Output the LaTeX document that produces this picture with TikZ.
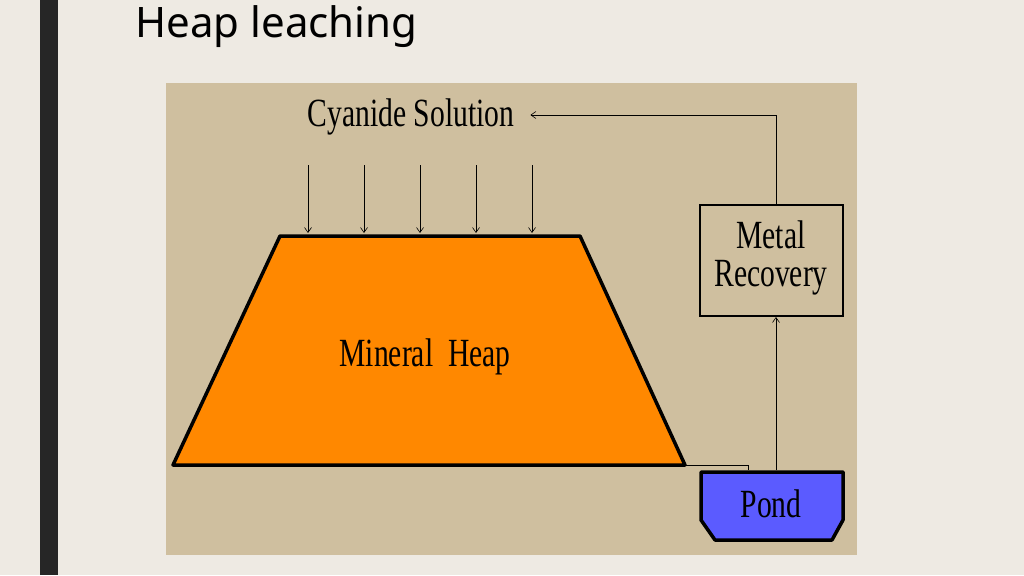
\documentclass[tikz,border=0pt]{standalone}
\usepackage{fontspec}
\setmainfont{Liberation Serif}
\newfontfamily\titlefont{Noto Sans}
\usetikzlibrary{positioning,arrows.meta}
\definecolor{slidebg}{HTML}{EEEAE3}
\definecolor{panelbg}{HTML}{CFBF9F}
\definecolor{heapfill}{HTML}{FF8800}
\definecolor{pondfill}{HTML}{5B5BFF}
\tikzstyle{connector} = [line width=0.6pt,-{Straight Barb[length=5pt,width=7pt]}]
\tikzstyle{caption} = [font=\fontsize{40}{38}\selectfont, inner sep=0pt]
\newcommand{\narrow}[1]{\scalebox{0.74}[1]{#1}}
\begin{document}
\begin{tikzpicture}[x=1pt,y=-1pt]
        \useasboundingbox (0,0) rectangle (1024,575);
        \fill [slidebg] (0,0) rectangle (1024,575);
        \fill [black!85] (40,0) rectangle (58,575);
        \node (title) [anchor=west, font=\titlefont\fontsize{42}{42}\selectfont] at (132,27) {Heap leaching};
        \fill [panelbg] (166,83) rectangle (857,555);
        % heap
        \draw [line width=3.5pt, fill=heapfill, line join=round] (280,236) -- (580,236) -- (685,465) -- (173,465) -- cycle;
        \node (heap) [caption] at (425,357) {\narrow{Mineral\ \ Heap}};
        \node (cyanide) [caption] at (411,117) {\narrow{Cyanide Solution}};
        % solution arrows
        \foreach \x in {308,364,420,476,532} {
            \coordinate (top-\x) at (\x,165);
            \coordinate (bot-\x) at (\x,233);
            \draw [connector] (top-\x) -- (bot-\x);
        }
        % recovery and pond
        \draw [line width=2.5pt] (700,205) rectangle (843,316);
        \node (recovery) [caption, align=center] at (771,258) {\narrow{Metal}\\\narrow{Recovery}};
        \draw [line width=3.5pt, fill=pondfill, line join=round] (701,472) -- (843,472) -- (843,520) -- (832,540) -- (715,540) -- (701,520) -- cycle;
        \node (pond) [caption] at (771,504) {\narrow{Pond}};
        \coordinate (pond-top) at (776,470);
        \coordinate (heap-foot) at (685,465);
        \coordinate (drain) at (748,465);
        \coordinate (box-top) at (776,204);
        \coordinate (box-bot) at (776,317);
        \draw [line width=0.6pt] (heap-foot) -- (drain) -- ++(0,5);
        \draw [connector] (pond-top) -- (box-bot);
        \draw [connector] (box-top) |- ([xshift=16pt,yshift=2pt]cyanide.east);
    \end{tikzpicture}
\end{document}
